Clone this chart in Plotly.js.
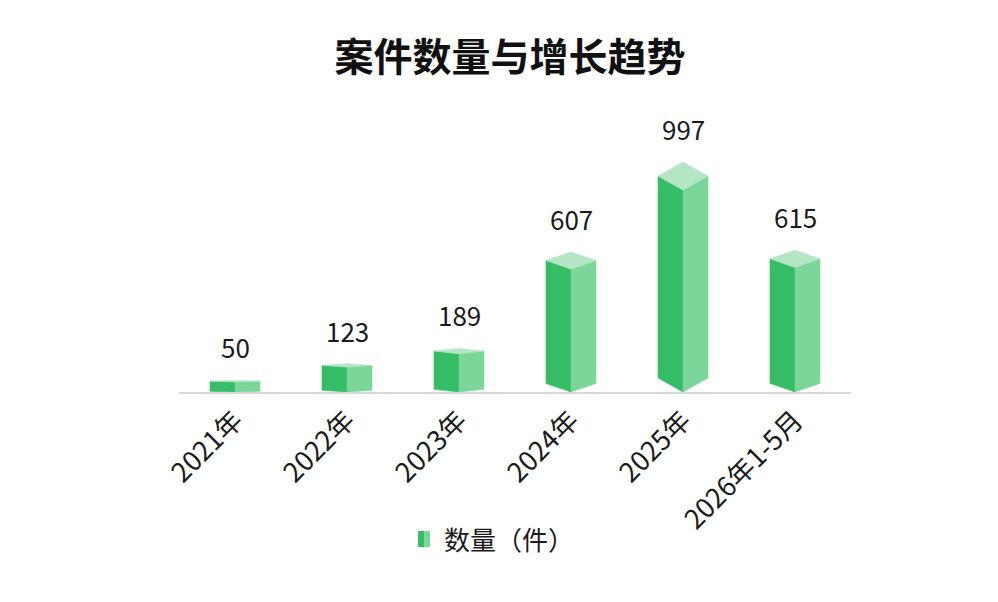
<!DOCTYPE html>
<html>
<head>
<meta charset="utf-8">
<script src="https://cdn.plot.ly/plotly-3.0.1.min.js"></script>
<style>html,body{margin:0;padding:0;background:#fff;}#chart{width:998px;height:602px;}</style>
</head>
<body>
<div id="chart"></div>
<script>
// ---- data ----
const categories = ["2021年", "2022年", "2023年", "2024年", "2025年", "2026年1-5月"];
const counts = [50, 123, 189, 607, 997, 615];
const seriesName = "数量（件）";
const chartTitle = "案件数量与增长趋势";

// ---- style ----
const COL_LEFT = "#35BE65", COL_RIGHT = "#7BD69A", COL_TOP = "#B4E5C5";
const HALF_W = 0.223;      // half width of bar (category units)
const DEPTH = 0.069;       // perspective depth relative to value
const FONT = "'Noto Sans CJK SC', 'Noto Sans', sans-serif";

const idx = categories.map((_, i) => i);
function faces(kind) {
  const xs = [], ys = [];
  counts.forEach((v, i) => {
    const s = DEPTH * v;
    let px, py;
    if (kind === "left") { px = [i - HALF_W, i, i, i - HALF_W, i - HALF_W]; py = [s, 0, v, v + s, s]; }
    else if (kind === "right") { px = [i, i + HALF_W, i + HALF_W, i, i]; py = [0, s, v + s, v, 0]; }
    else { px = [i - HALF_W, i, i + HALF_W, i, i - HALF_W]; py = [v + s, v, v + s, v + 2 * s, v + s]; }
    xs.push(...px, null); ys.push(...py, null);
  });
  return { xs, ys };
}
function faceTrace(kind, color) {
  const f = faces(kind);
  return { type: "scatter", mode: "lines", x: f.xs, y: f.ys, fill: "toself", fillcolor: color,
           line: { color: color, width: 0.6 }, hoverinfo: "skip", showlegend: false };
}
const traces = [faceTrace("left", COL_LEFT), faceTrace("right", COL_RIGHT), faceTrace("top", COL_TOP)];

const annotations = counts.map((v, i) => ({
  x: i, y: v + 2 * DEPTH * v, xref: "x", yref: "y", text: String(v), showarrow: false,
  yanchor: "bottom", yshift: 13, font: { family: FONT, size: 26, color: "#1a1a1a" }
}));
// legend text
annotations.push({ xref: "paper", yref: "paper", x: 0.392, y: -0.503, xanchor: "left", yanchor: "middle",
  text: seriesName, showarrow: false, font: { family: FONT, size: 26, color: "#1a1a1a" } });

const shapes = [
  { type: "rect", xref: "paper", yref: "paper", x0: 0.3557, x1: 0.3646, y0: -0.531, y1: -0.476, fillcolor: COL_LEFT, line: { width: 0 } },
  { type: "rect", xref: "paper", yref: "paper", x0: 0.3646, x1: 0.3735, y0: -0.531, y1: -0.476, fillcolor: COL_RIGHT, line: { width: 0 } }
];

const layout = {
  width: 998, height: 602,
  margin: { l: 179, r: 147, t: 100, b: 210 },
  paper_bgcolor: "#fff", plot_bgcolor: "#fff",
  title: { text: "<b>" + chartTitle + "</b>", x: 0.511, xref: "container", y: 0.905, yref: "container", yanchor: "middle",
           font: { family: FONT, size: 39, color: "#111" } },
  xaxis: { type: "linear", range: [-0.5, 5.5], tickmode: "array", tickvals: idx, ticktext: categories,
           tickangle: -45, showgrid: false, zeroline: false, showline: true, linecolor: "#d9d9d9", linewidth: 2,
           ticks: "", tickfont: { family: FONT, size: 27, color: "#1a1a1a" }, fixedrange: true },
  yaxis: { range: [0, 1441], showgrid: false, zeroline: false, showticklabels: false, showline: false, fixedrange: true },
  showlegend: false,
  annotations: annotations,
  shapes: shapes
};
Plotly.newPlot("chart", traces, layout, { displayModeBar: false, staticPlot: true });
</script>
</body>
</html>
